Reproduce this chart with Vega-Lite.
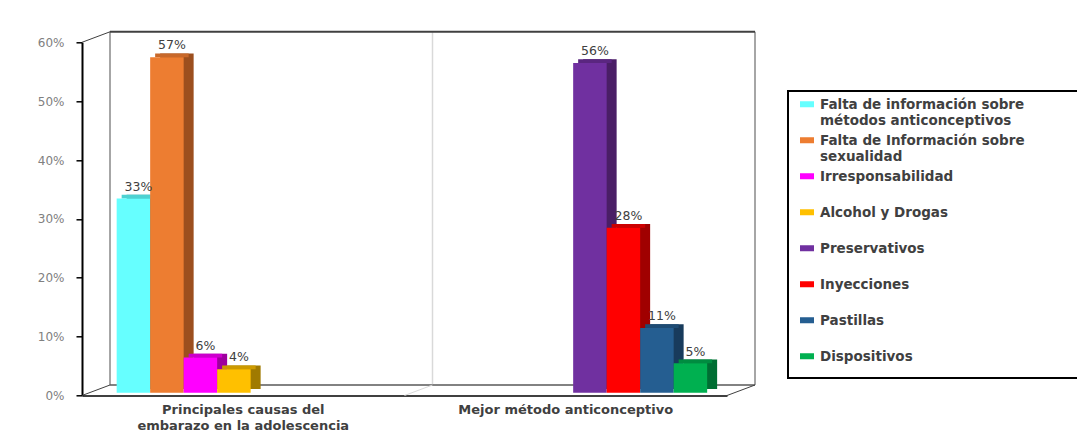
{
  "$schema": "https://vega.github.io/schema/vega-lite/v6.json",
  "width": 645,
  "height": 353.2,
  "autosize": {"type": "none"},
  "padding": {"left": 82, "top": 42.3, "right": 350, "bottom": 42.5},
  "background": "white",
  "config": {"view": {"stroke": null}, "font": "DejaVu Sans", "legend": {"strokeWidth": 2}},
  "datasets": {
    "barras": [
      {"grupo": "Principales causas del embarazo en la adolescencia", "serie": "Falta de información sobre métodos anticonceptivos", "valor": 0.33},
      {"grupo": "Principales causas del embarazo en la adolescencia", "serie": "Falta de Información sobre sexualidad", "valor": 0.57},
      {"grupo": "Principales causas del embarazo en la adolescencia", "serie": "Irresponsabilidad", "valor": 0.06},
      {"grupo": "Principales causas del embarazo en la adolescencia", "serie": "Alcohol y Drogas", "valor": 0.04},
      {"grupo": "Mejor método anticonceptivo", "serie": "Preservativos", "valor": 0.56},
      {"grupo": "Mejor método anticonceptivo", "serie": "Inyecciones", "valor": 0.28},
      {"grupo": "Mejor método anticonceptivo", "serie": "Pastillas", "valor": 0.11},
      {"grupo": "Mejor método anticonceptivo", "serie": "Dispositivos", "valor": 0.05}
    ],
    "marco": [{}]
  },
  "data": {"name": "barras"},
  "resolve": {"scale": {"x": "independent", "xOffset": "independent", "color": "independent"}},
  "layer": [
    {
      "data": {"name": "marco"},
      "mark": {"type": "rule", "color": "#a6a6a6", "strokeWidth": 2, "xOffset": 28, "yOffset": -10.5, "y2Offset": -10.5},
      "encoding": {
        "x": {"datum": 0, "type": "quantitative", "scale": {"domain": [0, 2]}, "axis": null},
        "y": {"datum": 0, "type": "quantitative", "scale": {"domain": [0, 0.6], "nice": false}, "axis": {"title": null, "values": [0, 0.1, 0.2, 0.3, 0.4, 0.5, 0.6], "format": ".0%", "grid": false, "domainColor": "black", "domainWidth": 2, "tickColor": "black", "tickSize": 6, "tickWidth": 1.5, "labelColor": "#808080", "labelFontSize": 12, "labelPadding": 12}},
        "y2": {"datum": 0.6}
      }
    },
    {
      "data": {"name": "marco"},
      "mark": {"type": "rule", "color": "#a6a6a6", "strokeWidth": 2, "xOffset": 28, "yOffset": -10.5, "y2Offset": -10.5},
      "encoding": {
        "x": {"datum": 2, "type": "quantitative", "scale": {"domain": [0, 2]}, "axis": null},
        "y": {"datum": 0, "type": "quantitative", "scale": {"domain": [0, 0.6], "nice": false}, "axis": {"title": null, "values": [0, 0.1, 0.2, 0.3, 0.4, 0.5, 0.6], "format": ".0%", "grid": false, "domainColor": "black", "domainWidth": 2, "tickColor": "black", "tickSize": 6, "tickWidth": 1.5, "labelColor": "#808080", "labelFontSize": 12, "labelPadding": 12}},
        "y2": {"datum": 0.6}
      }
    },
    {
      "data": {"name": "marco"},
      "mark": {"type": "rule", "color": "#d9d9d9", "strokeWidth": 1.5, "xOffset": 28, "yOffset": -10.5, "y2Offset": -10.5},
      "encoding": {
        "x": {"datum": 1, "type": "quantitative", "scale": {"domain": [0, 2]}, "axis": null},
        "y": {"datum": 0, "type": "quantitative", "scale": {"domain": [0, 0.6], "nice": false}, "axis": {"title": null, "values": [0, 0.1, 0.2, 0.3, 0.4, 0.5, 0.6], "format": ".0%", "grid": false, "domainColor": "black", "domainWidth": 2, "tickColor": "black", "tickSize": 6, "tickWidth": 1.5, "labelColor": "#808080", "labelFontSize": 12, "labelPadding": 12}},
        "y2": {"datum": 0.6}
      }
    },
    {
      "data": {"name": "marco"},
      "mark": {"type": "rule", "color": "#404040", "strokeWidth": 2, "xOffset": 28, "x2Offset": 28, "yOffset": -10.5},
      "encoding": {
        "x": {"datum": 0, "type": "quantitative", "scale": {"domain": [0, 2]}, "axis": null},
        "x2": {"datum": 2},
        "y": {"datum": 0.6, "type": "quantitative", "scale": {"domain": [0, 0.6], "nice": false}, "axis": {"title": null, "values": [0, 0.1, 0.2, 0.3, 0.4, 0.5, 0.6], "format": ".0%", "grid": false, "domainColor": "black", "domainWidth": 2, "tickColor": "black", "tickSize": 6, "tickWidth": 1.5, "labelColor": "#808080", "labelFontSize": 12, "labelPadding": 12}}
      }
    },
    {
      "data": {"name": "marco"},
      "mark": {"type": "rule", "color": "#595959", "strokeWidth": 1.5, "xOffset": 28, "x2Offset": 28, "yOffset": -10.5},
      "encoding": {
        "x": {"datum": 0, "type": "quantitative", "scale": {"domain": [0, 2]}, "axis": null},
        "x2": {"datum": 2},
        "y": {"datum": 0, "type": "quantitative", "scale": {"domain": [0, 0.6], "nice": false}, "axis": {"title": null, "values": [0, 0.1, 0.2, 0.3, 0.4, 0.5, 0.6], "format": ".0%", "grid": false, "domainColor": "black", "domainWidth": 2, "tickColor": "black", "tickSize": 6, "tickWidth": 1.5, "labelColor": "#808080", "labelFontSize": 12, "labelPadding": 12}}
      }
    },
    {
      "data": {"name": "marco"},
      "mark": {"type": "rule", "color": "#404040", "strokeWidth": 1, "x2Offset": 28, "y2Offset": -10.5},
      "encoding": {
        "x": {"datum": 0, "type": "quantitative", "scale": {"domain": [0, 2]}, "axis": null},
        "x2": {"datum": 0},
        "y": {"datum": 0.6, "type": "quantitative", "scale": {"domain": [0, 0.6], "nice": false}, "axis": {"title": null, "values": [0, 0.1, 0.2, 0.3, 0.4, 0.5, 0.6], "format": ".0%", "grid": false, "domainColor": "black", "domainWidth": 2, "tickColor": "black", "tickSize": 6, "tickWidth": 1.5, "labelColor": "#808080", "labelFontSize": 12, "labelPadding": 12}},
        "y2": {"datum": 0.6}
      }
    },
    {
      "data": {"name": "marco"},
      "mark": {"type": "rule", "color": "#404040", "strokeWidth": 1, "x2Offset": 28, "y2Offset": -10.5},
      "encoding": {
        "x": {"datum": 0, "type": "quantitative", "scale": {"domain": [0, 2]}, "axis": null},
        "x2": {"datum": 0},
        "y": {"datum": 0, "type": "quantitative", "scale": {"domain": [0, 0.6], "nice": false}, "axis": {"title": null, "values": [0, 0.1, 0.2, 0.3, 0.4, 0.5, 0.6], "format": ".0%", "grid": false, "domainColor": "black", "domainWidth": 2, "tickColor": "black", "tickSize": 6, "tickWidth": 1.5, "labelColor": "#808080", "labelFontSize": 12, "labelPadding": 12}},
        "y2": {"datum": 0}
      }
    },
    {
      "data": {"name": "marco"},
      "mark": {"type": "rule", "color": "#d9d9d9", "strokeWidth": 1, "x2Offset": 28, "y2Offset": -10.5},
      "encoding": {
        "x": {"datum": 1, "type": "quantitative", "scale": {"domain": [0, 2]}, "axis": null},
        "x2": {"datum": 1},
        "y": {"datum": 0, "type": "quantitative", "scale": {"domain": [0, 0.6], "nice": false}, "axis": {"title": null, "values": [0, 0.1, 0.2, 0.3, 0.4, 0.5, 0.6], "format": ".0%", "grid": false, "domainColor": "black", "domainWidth": 2, "tickColor": "black", "tickSize": 6, "tickWidth": 1.5, "labelColor": "#808080", "labelFontSize": 12, "labelPadding": 12}},
        "y2": {"datum": 0}
      }
    },
    {
      "data": {"name": "marco"},
      "mark": {"type": "rule", "color": "#404040", "strokeWidth": 1, "x2Offset": 28, "y2Offset": -10.5},
      "encoding": {
        "x": {"datum": 2, "type": "quantitative", "scale": {"domain": [0, 2]}, "axis": null},
        "x2": {"datum": 2},
        "y": {"datum": 0, "type": "quantitative", "scale": {"domain": [0, 0.6], "nice": false}, "axis": {"title": null, "values": [0, 0.1, 0.2, 0.3, 0.4, 0.5, 0.6], "format": ".0%", "grid": false, "domainColor": "black", "domainWidth": 2, "tickColor": "black", "tickSize": 6, "tickWidth": 1.5, "labelColor": "#808080", "labelFontSize": 12, "labelPadding": 12}},
        "y2": {"datum": 0}
      }
    },
    {
      "mark": {"type": "bar", "yOffset": -6.55, "y2Offset": -6.55},
      "encoding": {
        "x": {"field": "grupo", "type": "nominal", "scale": {"domain": ["Principales causas del embarazo en la adolescencia", "Mejor método anticonceptivo"], "paddingInner": 0, "paddingOuter": 0}, "axis": null},
        "xOffset": {"field": "serie", "type": "nominal", "scale": {"domain": ["Falta de información sobre métodos anticonceptivos", "Falta de Información sobre sexualidad", "Irresponsabilidad", "Alcohol y Drogas", "Preservativos", "Inyecciones", "Pastillas", "Dispositivos"], "paddingInner": 0, "paddingOuter": 0.8134, "align": 0.819}},
        "y": {"field": "valor", "type": "quantitative", "scale": {"domain": [0, 0.6], "nice": false}, "axis": {"title": null, "values": [0, 0.1, 0.2, 0.3, 0.4, 0.5, 0.6], "format": ".0%", "grid": false, "domainColor": "black", "domainWidth": 2, "tickColor": "black", "tickSize": 6, "tickWidth": 1.5, "labelColor": "#808080", "labelFontSize": 12, "labelPadding": 12}},
        "y2": {"datum": 0},
        "color": {"field": "serie", "type": "nominal", "legend": null, "scale": {"domain": ["Falta de información sobre métodos anticonceptivos", "Falta de Información sobre sexualidad", "Irresponsabilidad", "Alcohol y Drogas", "Preservativos", "Inyecciones", "Pastillas", "Dispositivos"], "range": ["#3A9E9E", "#9C4F1E", "#9E009E", "#A07A00", "#4A1E66", "#A00000", "#183B5C", "#006E33"]}}
      }
    },
    {
      "mark": {"type": "bar", "yOffset": -6.55, "y2Offset": -2.8},
      "encoding": {
        "x": {"field": "grupo", "type": "nominal", "scale": {"domain": ["Principales causas del embarazo en la adolescencia", "Mejor método anticonceptivo"], "paddingInner": 0, "paddingOuter": 0}, "axis": null},
        "xOffset": {"field": "serie", "type": "nominal", "scale": {"domain": ["Falta de información sobre métodos anticonceptivos", "Falta de Información sobre sexualidad", "Irresponsabilidad", "Alcohol y Drogas", "Preservativos", "Inyecciones", "Pastillas", "Dispositivos"], "paddingInner": 0, "paddingOuter": 0.8134, "align": 0.7275}},
        "y": {"field": "valor", "type": "quantitative", "scale": {"domain": [0, 0.6], "nice": false}, "axis": {"title": null, "values": [0, 0.1, 0.2, 0.3, 0.4, 0.5, 0.6], "format": ".0%", "grid": false, "domainColor": "black", "domainWidth": 2, "tickColor": "black", "tickSize": 6, "tickWidth": 1.5, "labelColor": "#808080", "labelFontSize": 12, "labelPadding": 12}},
        "y2": {"field": "valor"},
        "color": {"field": "serie", "type": "nominal", "legend": null, "scale": {"domain": ["Falta de información sobre métodos anticonceptivos", "Falta de Información sobre sexualidad", "Irresponsabilidad", "Alcohol y Drogas", "Preservativos", "Inyecciones", "Pastillas", "Dispositivos"], "range": ["#4DD2D2", "#C8682A", "#CC00CC", "#CC9A00", "#5A2680", "#CC0000", "#1E4B74", "#008C40"]}}
      }
    },
    {
      "mark": {"type": "bar", "yOffset": -2.8, "y2Offset": -2.8},
      "encoding": {
        "x": {"field": "grupo", "type": "nominal", "scale": {"domain": ["Principales causas del embarazo en la adolescencia", "Mejor método anticonceptivo"], "paddingInner": 0, "paddingOuter": 0}, "axis": {"title": null, "ticks": false, "domainColor": "black", "domainWidth": 1.5, "labelAngle": 0, "labelFont": "DejaVu Sans", "labelFontSize": 13, "labelFontWeight": "bold", "labelColor": "#404040", "labelPadding": 8, "labelLineHeight": 16, "labelLimit": 400, "labelExpr": "datum.label == 'Principales causas del embarazo en la adolescencia' ? ['Principales causas del', 'embarazo en la adolescencia'] : datum.label"}},
        "xOffset": {"field": "serie", "type": "nominal", "scale": {"domain": ["Falta de información sobre métodos anticonceptivos", "Falta de Información sobre sexualidad", "Irresponsabilidad", "Alcohol y Drogas", "Preservativos", "Inyecciones", "Pastillas", "Dispositivos"], "paddingInner": 0, "paddingOuter": 0.8134, "align": 0.636}},
        "y": {"field": "valor", "type": "quantitative", "scale": {"domain": [0, 0.6], "nice": false}, "axis": {"title": null, "values": [0, 0.1, 0.2, 0.3, 0.4, 0.5, 0.6], "format": ".0%", "grid": false, "domainColor": "black", "domainWidth": 2, "tickColor": "black", "tickSize": 6, "tickWidth": 1.5, "labelColor": "#808080", "labelFontSize": 12, "labelPadding": 12}},
        "y2": {"datum": 0},
        "color": {
          "field": "serie",
          "type": "nominal",
          "scale": {"domain": ["Falta de información sobre métodos anticonceptivos", "Falta de Información sobre sexualidad", "Irresponsabilidad", "Alcohol y Drogas", "Preservativos", "Inyecciones", "Pastillas", "Dispositivos"], "range": ["#66FFFF", "#ED7D31", "#FF00FF", "#FFC000", "#7030A0", "#FF0000", "#255E91", "#00B050"]},
          "legend": {
            "title": null,
            "orient": "none",
            "legendX": 706,
            "legendY": 48.7,
            "strokeColor": "black",
            "fillColor": "white",
            "padding": 0,
            "gridAlign": "all",
            "rowPadding": 0,
            "symbolType": "M-1,0.45H1V1.31H-1Z M0,3.8L0,3.86 M40,1L40.01,1",
            "symbolSize": 196,
            "symbolOffset": 12,
            "symbolStrokeWidth": 0,
            "labelFont": "DejaVu Sans",
            "labelFontSize": 13.5,
            "labelFontWeight": "bold",
            "labelColor": "#404040",
            "labelBaseline": "top",
            "labelLimit": 320,
            "labelOffset": 6,
            "labelExpr": "datum.label == 'Falta de información sobre métodos anticonceptivos' ? ['Falta de información sobre', 'métodos anticonceptivos'] : datum.label == 'Falta de Información sobre sexualidad' ? ['Falta de Información sobre', 'sexualidad'] : datum.label"
          }
        }
      }
    },
    {
      "mark": {"type": "text", "yOffset": -10.5, "baseline": "alphabetic", "font": "DejaVu Sans", "fontSize": 12.5, "color": "#404040"},
      "encoding": {
        "x": {"field": "grupo", "type": "nominal", "scale": {"type": "band", "domain": ["Principales causas del embarazo en la adolescencia", "Mejor método anticonceptivo"], "paddingInner": 0, "paddingOuter": 0}, "axis": null},
        "xOffset": {"field": "serie", "type": "nominal", "scale": {"type": "band", "domain": ["Falta de información sobre métodos anticonceptivos", "Falta de Información sobre sexualidad", "Irresponsabilidad", "Alcohol y Drogas", "Preservativos", "Inyecciones", "Pastillas", "Dispositivos"], "paddingInner": 0, "paddingOuter": 0.8134, "align": 0.7275}},
        "y": {"field": "valor", "type": "quantitative", "scale": {"domain": [0, 0.6], "nice": false}, "axis": {"title": null, "values": [0, 0.1, 0.2, 0.3, 0.4, 0.5, 0.6], "format": ".0%", "grid": false, "domainColor": "black", "domainWidth": 2, "tickColor": "black", "tickSize": 6, "tickWidth": 1.5, "labelColor": "#808080", "labelFontSize": 12, "labelPadding": 12}},
        "text": {"field": "valor", "type": "quantitative", "format": ".0%"}
      }
    }
  ]
}
